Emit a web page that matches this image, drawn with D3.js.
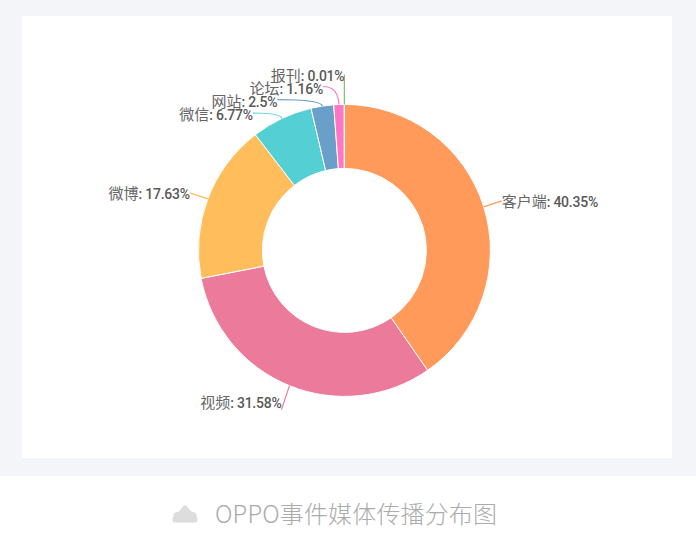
<!DOCTYPE html>
<html><head><meta charset="utf-8">
<script src="https://cdn.jsdelivr.net/npm/d3@7/dist/d3.min.js"></script>
<style>html,body{margin:0;padding:0;background:#fff}svg{display:block}</style></head>
<body><svg id="c" width="696" height="542"></svg>
<script>
const categories=["客户端","视频","微博","微信","网站","论坛","报刊"];
const shares=[40.35,31.58,17.63,6.77,2.5,1.16,0.01];
const valueLabels=["40.35%","31.58%","17.63%","6.77%","2.5%","1.16%","0.01%"];
const colors=["#FF9A5A","#EC7A9B","#FFBE5B","#54D0D4","#6A9FC9","#FF77C4","#8DBB62"];
const titleText="OPPO事件媒体传播分布图";
// layout only: leader end relative to the slice's outer midpoint, and label offset from the leader end
const leaderEnd=[[18,-6],[-8,24],[-18,-6],[-29,-5.5],[-45,-6.5],[-16,-18],[0,-30]];
const labelShift=[[0,0.5],[0,-7],[0,0.5],[0,1],[0,1.5],[0,2],[0,1]];

const svg=d3.select("#c");
const cx=344.4,cy=250.4,R=146,r=82;
svg.append("rect").attr("width",696).attr("height",476).attr("fill","#F4F5F9");
svg.append("rect").attr("x",22).attr("y",16).attr("width",650).attr("height",442).attr("fill","#fff");
const g=svg.append("g").attr("transform",`translate(${cx},${cy})`);
const arcs=d3.pie().sort(null).value(d=>d)(shares);
const arc=d3.arc().innerRadius(r).outerRadius(R);
g.selectAll("path.s").data(arcs).join("path").attr("class","s").attr("d",arc)
 .attr("fill",(d,i)=>colors[i]).attr("stroke","#fff").attr("stroke-width",1);
const pt=d=>{const a=(d.startAngle+d.endAngle)/2;return [Math.sin(a)*R,-Math.cos(a)*R];};
arcs.forEach((d,i)=>{
  const p=pt(d),k=leaderEnd[i],q=[p[0]+k[0],p[1]+k[1]];
  const s=labelShift[i];
  const curved=i>=3&&i<6;
  const path=d3.path();
  path.moveTo(p[0],p[1]);
  if(curved) path.quadraticCurveTo(p[0]-1,q[1],q[0],q[1]); else path.lineTo(q[0],q[1]);
  g.append("path").attr("d",path.toString()).attr("fill","none").attr("stroke",colors[i]).attr("stroke-width",1.2);
  const t=g.append("text").attr("x",q[0]+s[0]).attr("y",q[1]+s[1]).attr("dy","0.35em")
   .attr("text-anchor",i===0?"start":"end").attr("fill","#595959");
  t.append("tspan").attr("font-family","'Noto Sans CJK SC',sans-serif").attr("font-size",15).attr("font-weight",400).attr("fill","#666").text(categories[i]);
  t.append("tspan").attr("font-family","Roboto,sans-serif").attr("font-size",14).attr("font-weight",500).attr("letter-spacing",-0.25).text(": "+valueLabels[i]);
});
// footer icon and title
svg.append("path").attr("d",d3.line().curve(d3.curveLinearClosed)([[175,520],[195,520],[194,515],[189,513],[185,508],[181,513],[176,515]]))
 .attr("fill","#DDD").attr("stroke","#DDD").attr("stroke-width",5).attr("stroke-linejoin","round");
svg.append("text").attr("x",215).attr("y",523).attr("font-family","'Noto Sans CJK SC',sans-serif")
 .attr("font-size",24).attr("font-weight",300).attr("letter-spacing",0.15).attr("fill","#ABABAB").text(titleText);
</script></body></html>
